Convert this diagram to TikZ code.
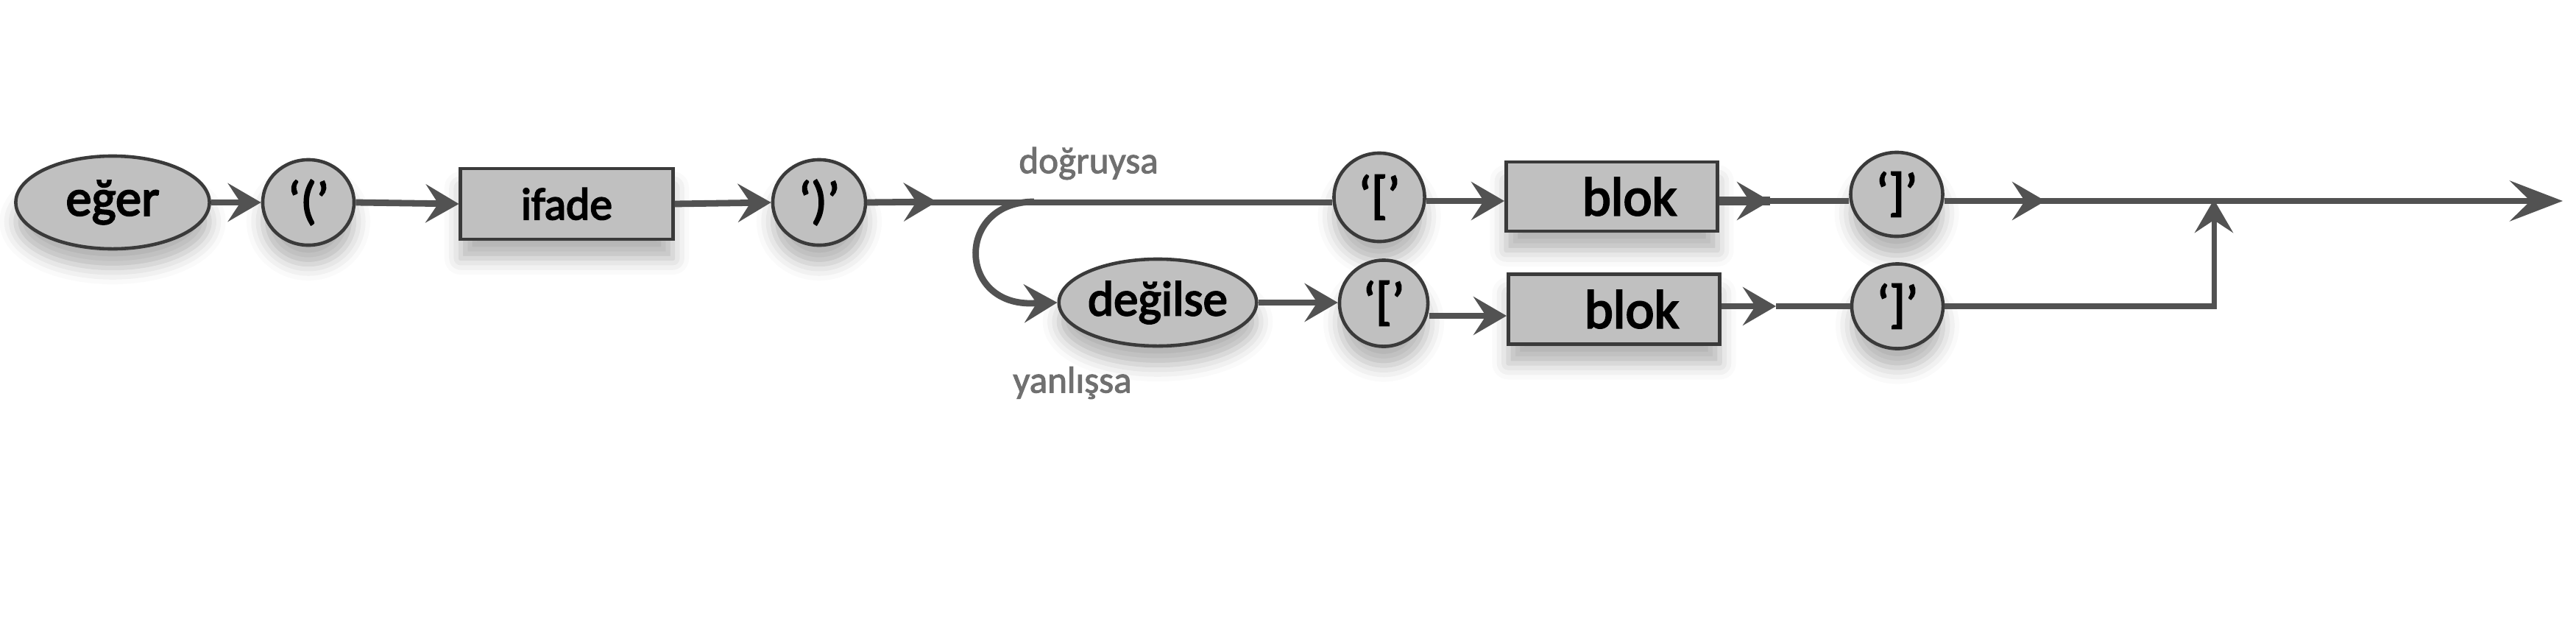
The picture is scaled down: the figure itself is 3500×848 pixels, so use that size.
\documentclass[tikz,border=0pt]{standalone}
\usepackage{fontspec}
\setmainfont{Carlito}
\newfontfamily\labfont{Carlito}[FakeBold=2]
\newfontfamily\nodefont{Carlito}[FakeBold=3]
\usetikzlibrary{arrows.meta,shapes.geometric,shadows.blur}
\definecolor{linec}{RGB}{82,82,82}
\definecolor{bordc}{RGB}{58,58,58}
\definecolor{fillc}{RGB}{192,192,192}
\definecolor{labc}{RGB}{112,112,112}
\begin{document}
\begin{tikzpicture}[x=0.01cm,y=-0.01cm,
  shad/.style={blur shadow={shadow xshift=0cm,shadow yshift=-0.26cm,shadow blur radius=0.22cm,shadow opacity=30}},
  term/.style={ellipse,draw=bordc,line width=1.3pt,fill=fillc,inner sep=0pt,shad},
  boxn/.style={rectangle,draw=bordc,line width=1.4pt,fill=fillc,inner sep=0pt,shad},
  ln/.style={draw=linec,line width=2.5pt},
  thin/.style={draw=linec,line width=2pt},
  tipa/.style={-{Stealth[length=0.45cm,width=0.52cm,inset=0.17cm]}},
  tipb/.style={-{Stealth[length=0.72cm,width=0.55cm,inset=0.28cm]}},
  lab/.style={text=labc,font=\labfont\fontsize{14.5}{17}\selectfont,inner sep=0pt}
]
\path[use as bounding box] (0,0) rectangle (3500,848);

% nodes
\node[term,minimum width=2.63cm,minimum height=1.26cm,font=\nodefont\fontsize{20}{24}\selectfont] (eger) at (153,275) {eğer};
\node[term,minimum width=1.24cm,minimum height=1.16cm,font=\nodefont\fontsize{20}{24}\selectfont] (lp) at (419,275) {‘(’};
\node[boxn,minimum width=2.88cm,minimum height=0.96cm,font=\nodefont\fontsize{17.5}{21}\selectfont] (ifade) at (770,277) {ifade};
\node[term,minimum width=1.26cm,minimum height=1.16cm,font=\nodefont\fontsize{20}{24}\selectfont] (rp) at (1113,275) {‘)’};

\node[term,minimum width=1.23cm,minimum height=1.20cm,font=\nodefont\fontsize{20}{24}\selectfont] (lb1) at (1874,268) {‘[’};
\node[boxn,minimum width=2.87cm,minimum height=0.94cm,font=\nodefont\fontsize{21}{25}\selectfont] (blok1) at (2190,267) {\hspace*{0.48cm}blok};
\node[term,minimum width=1.25cm,minimum height=1.14cm,font=\nodefont\fontsize{20}{24}\selectfont] (rb1) at (2577,264) {‘]’};

\node[term,minimum width=2.64cm,minimum height=1.18cm,font=\nodefont\fontsize{19}{23}\selectfont] (degilse) at (1573,411) {değilse};
\node[term,minimum width=1.20cm,minimum height=1.17cm,font=\nodefont\fontsize{20}{24}\selectfont] (lb2) at (1880,412) {‘[’};
\node[boxn,minimum width=2.87cm,minimum height=0.95cm,font=\nodefont\fontsize{21}{25}\selectfont] (blok2) at (2193,420) {\hspace*{0.48cm}blok};
\node[term,minimum width=1.24cm,minimum height=1.15cm,font=\nodefont\fontsize{20}{24}\selectfont] (rb2) at (2578,416) {‘]’};

\node[lab] (dog) at (1479,222) {doğruysa};
\node[lab] (yan) at (1457,520) {yanlışsa};

% helper coordinates
\coordinate (m1) at (1273,274);
\coordinate (br) at (1405,274);
\coordinate (bp) at (1400,412);
\coordinate (m2) at (2405,273);
\coordinate (m3) at (2779,273);
\coordinate (fin) at (3482,273);
\coordinate (m4) at (2413,416);
\coordinate (corner) at (3008,416);
\coordinate (join) at (3008,271);

% connectors
\draw[ln,tipa] (eger.east) -- (lp.west);
\draw[ln,tipa] (lp.east) -- (ifade.west);
\draw[ln,tipa] (ifade.east) -- (rp.west);
\draw[ln] (rp.east) -- (rp.east -| lb1.west);
\draw[ln,tipa] (rp.east) -- (m1);
\draw[ln,tipa] (br) .. controls (1300,274) and (1300,412) .. (bp) -- (degilse.west);
\draw[ln,tipa] (degilse.east) -- (degilse.east -| lb2.west);
\draw[ln,tipa] (lb1.east |- m2) -- (lb1.east |- m2 -| blok1.west);
\draw[ln,tipa] ([yshift=-0.17cm]lb2.east) -- ([yshift=-0.17cm]lb2.east -| blok2.west);
\draw[ln,line width=3.2pt] (blok1.east |- m2) -- (m2);
\draw[ln,tipa] (blok1.east |- m2) -- (m2);
\draw[ln] (m2) -- (rb1.west |- m2);
\draw[ln,tipa] (rb1.east |- m3) -- (m3);
\draw[ln,tipb] (rb1.east |- m3) -- (fin);
\draw[thin,tipa] (blok2.east |- m4) -- (m4);
\draw[thin] (m4) -- (rb2.west |- m4);
\draw[thin,tipa] (rb2.east |- corner) -- (corner) -- (join);
\end{tikzpicture}
\end{document}
